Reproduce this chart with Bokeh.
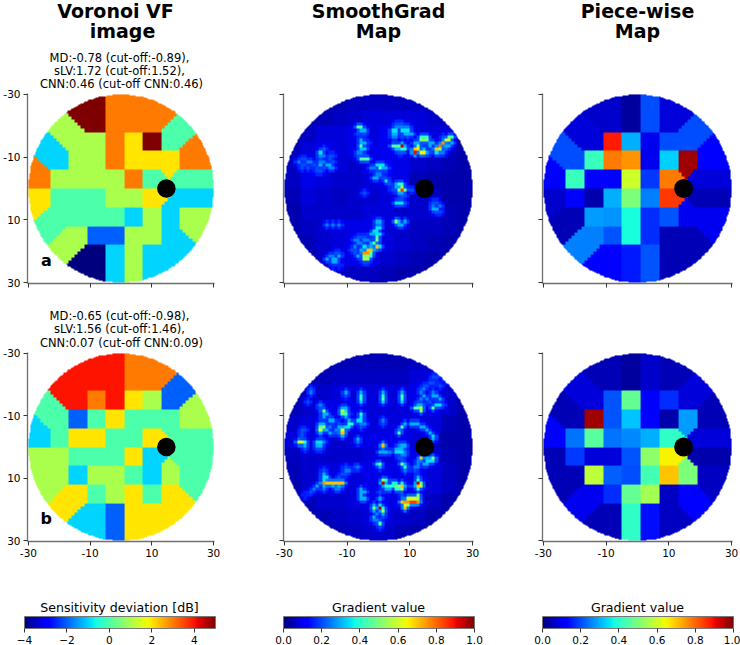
import numpy as np
from bokeh.embed import file_html
from bokeh.resources import INLINE
from bokeh.plotting import figure
from bokeh.layouts import column, row
from bokeh.models import (Label, LinearColorMapper, ColorBar, FixedTicker, Range1d,
                          NumeralTickFormatter)

FONT = "DejaVu Sans"

# test-point layout (rows of the visual-field grid)
row_y = [-21, -15, -9, -3, 3, 9, 15, 21]
row_x = [
    [-9, -3, 3, 9],
    [-15, -9, -3, 3, 9, 15],
    [-21, -15, -9, -3, 3, 9, 15, 21],
    [-27, -21, -15, -9, -3, 3, 9, 21],
    [-27, -21, -15, -9, -3, 3, 9, 21],
    [-21, -15, -9, -3, 3, 9, 15, 21],
    [-15, -9, -3, 3, 9, 15],
    [-9, -3, 3, 9],
]
blind_x = [14.7]
blind_y = [0]
axis_ticks = [-30, -10, 10, 30]
axis_labels = ["-30", "-10", "10", "30"]

voronoi_a = [
    [5, 3, 3, 3],
    [1, 1, 3, 2, 5, 0],
    [-1, 1, 1, 3, 2, 2, 2, 3],
    [3, 1, 1, 1, 1, 3, 0, 0],
    [2, 0, 0, 0, 1, 1, 2, -1],
    [0, 0, 0, 0, -1, 1, -1, 1],
    [1, -2, -2, 1, 1, -1],
    [-4, -1, 1, -1],
]
voronoi_b = [
    [4, 4, 3, 3],
    [4, 3, 4, 2, 1, -2],
    [0, -2, 0, 2, 0, 0, 0, 1],
    [-1, 0, 2, 2, 0, 0, 2, 0],
    [1, 1, 0, 0, 0, 2, -1, 0],
    [1, -1, 1, 1, 0, -1, 1, 0],
    [2, 0, 1, 2, 0, 2],
    [-1, -2, 2, 2],
]
piece_a = [
    [.07, .03, .20, .08],
    [.08, .88, .30, .10, .20, .20],
    [.20, .42, .78, .75, .10, .33, .97, .12],
    [.12, .42, .12, .12, .60, .18, .78, .08],
    [.07, .11, .04, .30, .50, .25, .85, .05],
    [.05, .28, .27, .38, .17, .21, .10, .10],
    [.25, .21, .38, .17, .05, .05],
    [.12, .15, .21, .05],
]
piece_b = [
    [.05, .03, .07, .05],
    [.08, .21, .47, .12, .17, .08],
    [.05, .97, .21, .32, .12, .04, .28, .05],
    [.12, .24, .46, .24, .26, .30, .41, .08],
    [.05, .18, .08, .08, .21, .52, .65, .04],
    [.05, .58, .22, .20, .43, .70, .50, .06],
    [.10, .17, .47, .55, .06, .12],
    [.05, .41, .14, .06],
]

# SmoothGrad background level, 5-degree blocks read by eye
sg_a_blocks = [
    [.04, .04, .04, .05, .06, .06, .06, .06, .06, .05, .04, .04],
    [.04, .04, .05, .06, .07, .08, .08, .08, .08, .07, .05, .04],
    [.04, .06, .08, .08, .09, .08, .10, .10, .08, .08, .08, .04],
    [.05, .08, .09, .08, .09, .09, .10, .09, .08, .07, .06, .04],
    [.06, .09, .09, .08, .07, .09, .10, .09, .07, .06, .05, .04],
    [.06, .09, .08, .07, .07, .08, .09, .09, .05, .04, .04, .04],
    [.05, .08, .07, .06, .07, .07, .08, .08, .07, .06, .04, .04],
    [.04, .07, .07, .07, .07, .08, .08, .07, .07, .07, .05, .04],
    [.04, .06, .07, .08, .09, .09, .08, .07, .06, .06, .05, .04],
    [.04, .05, .07, .08, .10, .10, .08, .07, .06, .05, .04, .04],
    [.04, .04, .06, .08, .09, .09, .07, .06, .05, .04, .04, .04],
    [.04, .04, .04, .06, .06, .06, .05, .04, .04, .04, .04, .04],
]
sg_b_blocks = [
    [.04, .04, .04, .05, .05, .05, .05, .05, .06, .06, .04, .04],
    [.04, .04, .05, .06, .06, .06, .06, .06, .08, .08, .06, .04],
    [.04, .06, .07, .08, .08, .08, .08, .08, .09, .09, .07, .04],
    [.05, .07, .09, .09, .09, .08, .08, .08, .09, .09, .07, .04],
    [.07, .08, .09, .09, .09, .08, .08, .08, .08, .08, .05, .04],
    [.08, .08, .08, .07, .08, .09, .09, .09, .08, .05, .04, .04],
    [.06, .07, .07, .07, .07, .08, .08, .09, .09, .07, .05, .04],
    [.05, .07, .08, .08, .08, .09, .09, .09, .09, .08, .06, .04],
    [.04, .07, .08, .08, .08, .09, .09, .09, .09, .08, .06, .04],
    [.04, .05, .07, .07, .08, .09, .09, .09, .08, .06, .04, .04],
    [.04, .04, .05, .06, .07, .08, .08, .07, .06, .04, .04, .04],
    [.04, .04, .04, .05, .06, .07, .07, .05, .04, .04, .04, .04],
]
# SmoothGrad bright pixels: (row y, columns x, value)
sg_a_hot = [
    (-21, [5, 6, 7], .2),
    (-20, [-7, -6], .45), (-20, [5, 6, 7, 8, 9], .25),
    (-19, [-6, -5], .3), (-19, [4, 5, 7, 8, 9], .35),
    (-18, [-7, -5], .2), (-18, [4, 5, 8, 9, 10], .3),
    (-17, [4, 5], .25), (-17, [7, 9, 20], .2), (-17, [13, 14, 15], .4), (-17, [22, 23], .45),
    (-16, [-6], .3), (-16, [13, 15], .5), (-16, [14], .55), (-16, [21, 22], .6),
    (-15, [-6, -5, 11, 12, 16, 17, 23], .3), (-15, [-4, 5], .18), (-15, [20], .75),
    (-14, [-6, 4, 5, 6], .45), (-14, [7], .95), (-14, [8, 16, 21, 22], .3), (-14, [12], .5), (-14, [19], .8),
    (-13, [-6, -5, 5, 6, 14], .32), (-13, [-18, 20, 21], .22), (-13, [7, 8], .4), (-13, [11], .7), (-13, [12], .65), (-13, [18], .7), (-13, [19], .55),
    (-12, [-19, 18], .35), (-12, [-7, -6, 12, 19, 20], .25), (-12, [11], .9), (-12, [13, 14], .65), (-12, [15], .3), (-12, [6, 7, 16], .2),
    (-11, [-19, -18], .25), (-11, [-16, -15, -7, -6, -5], .2),
    (-10, [-25, -24, -19, -16], .2), (-10, [-6, -5, -4], .45),
    (-9, [-26, -23, -22, -19, -18], .25), (-9, [-15], .2),
    (-8, [-25, -24, -21], .2), (-8, [-19, -17, -16], .3), (-8, [-1, 0, 1], .35),
    (-7, [-25, -23, -20, -18], .2), (-7, [-16, -15, -3, -2], .25), (-7, [0], .45), (-7, [1, 2], .3),
    (-6, [-20, -19, -1, 0], .2),
    (-5, [-1, 0], .25),
    (-4, [1, 2], .2), (-4, [-2, -1], .3),
    (-3, [2], .35),
    (-2, [3], .2), (-2, [5], .3), (-2, [6, 7], .4),
    (-1, [5, 6], .3), (-1, [7], .55), (-1, [8], .2),
    (0, [6, 8], .5), (0, [7], .85), (0, [4, 10], .2),
    (1, [6, 7], .3), (1, [-5], .2),
    (2, [7, 8], .2),
    (3, [6, 7], .2),
    (4, [5, 6, 7], .35), (4, [8, 17, 18], .2),
    (5, [17, 19], .25),
    (6, [17, 18], .3), (6, [19], .15),
    (7, [18, 19], .2),
    (10, [-1, 0, 6, 8], .3), (10, [5], .5),
    (11, [-17, -15, -13, -1, 0], .25), (11, [6, 7], .3),
    (12, [-1, 0], .35),
    (13, [-2, -1], .35),
    (14, [-3, -2], .3), (14, [-1, 0], .35),
    (15, [-7, -6, -5], .2), (15, [-1], .45),
    (16, [-8, -7, -5, -4], .25), (16, [-1], .5),
    (17, [-7, -6], .25), (17, [-3], .3), (17, [-2], .45),
    (18, [-8], .25), (18, [-5, 0], .35), (18, [-3], .3), (18, [-1], .7),
    (19, [-9, -8], .2), (19, [-6, -2], .3), (19, [-4, -3], .7),
    (20, [-14, -13, -8], .2), (20, [-5, -4], .75), (20, [-3], .5),
    (21, [-16, -15], .25), (21, [-13, -7], .3), (21, [-5, -4], .5), (21, [-3], .4),
    (22, [-17, -15, -14], .3), (22, [-6], .2), (22, [-5, -4], .55),
    (23, [-15, -14], .3), (23, [-5, -4], .2),
    (24, [-15, -13], .16),
]
sg_b_hot = [
    (-24, [19, 20], .2),
    (-23, [17, 18, 21], .2),
    (-22, [21, 22], .25),
    (-21, [16, 17], .2),
    (-20, [14, 15, 19], .2),
    (-19, [-22, 13], .2), (-19, [14], .25),
    (-18, [-11, -6, 1, 7], .3), (-18, [-22, 13, 17], .25),
    (-17, [-11], .2), (-17, [-6, 1], .4), (-17, [7], .45), (-17, [14, 17, 18], .3),
    (-16, [-6, 7], .4), (-16, [1], .45), (-16, [13, 15], .25), (-16, [19], .3),
    (-15, [-6, 1, 7], .33), (-15, [-23, 12, 13, 16], .2),
    (-14, [-19], .25), (-14, [12, 13], .3), (-14, [14, 20], .2), (-14, [18, 19], .35),
    (-13, [-19], .2), (-13, [-12, -11], .3), (-13, [11, 12, 17], .45), (-13, [13], .6),
    (-12, [-18, 13], .5), (-12, [-12], .55), (-12, [-11], .35),
    (-11, [-18, -17], .3), (-11, [-12, -11], .45), (-11, [-6], .4), (-11, [-10], .2),
    (-10, [-18, -11], .3), (-10, [-6], .35), (-10, [-16], .2),
    (-9, [-16, -15, -10], .3), (-9, [-7, -6], .35), (-9, [1], .25),
    (-8, [-19, -18, 8, 10, 11, 12], .3), (-8, [-13, 1], .2), (-8, [-10, -9], .4), (-8, [-6, -5], .25),
    (-7, [-19, 7], .45), (-7, [-18], .55), (-7, [-16], .25), (-7, [-13, -12, 13, 14], .3), (-7, [-11, -10], .35), (-7, [-6], .2),
    (-6, [-25, -24], .2), (-6, [-19, -12], .6), (-6, [-18, -17, 15], .3), (-6, [-14, -13, 6], .25),
    (-5, [-25, -15, -14], .2), (-5, [-19, -16, 16], .3), (-5, [-12], .7), (-5, [6], .45),
    (-4, [-25], .2), (-4, [-12], .3), (-4, [17], .35),
    (-3, [-25], .2), (-3, [-7, 17], .3),
    (-2, [-26, -25], .6), (-2, [-24], .4), (-2, [-20, -19], .35), (-2, [-18, -7], .25),
    (-1, [-24, -20, -19, 7, 8], .3), (-1, [1], .7), (-1, [6], .25),
    (0, [-24, -20, -19, 8], .2), (0, [5, 6, 7], .3),
    (1, [0, 1, 2], .3), (1, [3, 8], .25), (1, [5, 6, 7], .35),
    (2, [7, 8], .25),
    (3, [6, 7], .2), (3, [13], .7), (3, [14], .25), (3, [15, 16], .3), (3, [17], .5),
    (4, [12, 13], .25), (4, [15, 16, 17], .35),
    (5, [0, 7], .5), (5, [-1], .35), (5, [8, 14, 15], .3), (5, [12], .25),
    (6, [0], .3), (6, [8], .4), (6, [-8, -11], .2), (6, [-7, 11, 12], .25),
    (7, [-11, -10, 8], .25), (7, [-18, 11], .2),
    (8, [-12, -11], .2), (8, [-18], .3),
    (9, [-18, -17], .35), (9, [-13], .2), (9, [12], .3),
    (10, [-18], .35), (10, [1], .5), (10, [2, 12], .4),
    (11, [-18], .75), (11, [-17, -16, -15, -14, -13, -12], .7), (11, [1, 12], .95), (11, [2], .3), (11, [4, 5, 7], .37), (11, [13], .5),
    (12, [-20, -18, -15, -13, 8, 11], .3), (12, [2, 3, 4], .4), (12, [5, 6], .5), (12, [7, 12], .7), (12, [13], .6),
    (13, [-21, -18, -14, -13], .25), (13, [-6, 2, 3], .3), (13, [5, 6, 12], .4), (13, [7], .55),
    (14, [-22, 0], .2), (14, [-6, -5], .3),
    (15, [-24], .15), (15, [-6], .3), (15, [7], .2), (15, [12], .5),
    (16, [-6, -5, 0], .3), (16, [9, 10, 11], .6), (16, [12], .55),
    (17, [7], .7), (17, [8, 9, 12], .75), (17, [10, 11], .85),
    (18, [-2], .3), (18, [0], .35), (18, [8], .6), (18, [9], .55),
    (19, [-2], .5), (19, [0], .95), (19, [8], .7), (19, [1], .4),
    (20, [1], .55), (20, [-2], .3),
    (21, [-1], .25), (21, [1], .3),
    (22, [-2], .3), (22, [1], .2),
    (23, [-2, -1], .25),
    (24, [0], .45),
    (25, [0], .2),
]

# matplotlib's jet colour map
_t = np.linspace(0, 1, 256)
_r = np.interp(_t, [0, .35, .66, .89, 1], [0, 0, 1, 1, .5])
_g = np.interp(_t, [0, .125, .375, .64, .91, 1], [0, 0, 1, 1, 0, 0])
_b = np.interp(_t, [0, .11, .34, .65, 1], [.5, 1, 1, 0, 0])
JET = ["#%02x%02x%02x" % (int(r * 255), int(g * 255), int(b * 255)) for r, g, b in zip(_r, _g, _b)]

UP = 4  # image upsampling so that the round edge stays smooth


def mask_circle(coarse):
    fine = np.kron(coarse, np.ones((UP, UP)))
    c = (np.arange(60 * UP) + .5) / UP - 30
    xx, yy = np.meshgrid(c, c)
    fine[xx ** 2 + yy ** 2 > 30 ** 2] = np.nan
    return fine


def voronoi_image(values):
    px, py, pv = [], [], []
    for y, xs, vs in zip(row_y, row_x, values):
        for x, v in zip(xs, vs):
            px.append(x); py.append(y); pv.append(v)
    px, py, pv = np.array(px), np.array(py), np.array(pv, dtype=float)
    c = np.arange(60) - 29.5
    xx, yy = np.meshgrid(c - .5, c + .5)
    d = (xx[..., None] - px) ** 2 + (yy[..., None] - py) ** 2
    return mask_circle(pv[np.argmin(d, axis=2)])


def smoothgrad_image(hot, blocks):
    a = np.kron(np.array(blocks), np.ones((5, 5)))
    for y, xs, v in hot:
        for x in xs:
            # soft blue halo round each read pixel, as the picture's clusters have
            for dy in (-1, 0, 1):
                for dx in (-1, 0, 1):
                    yy, xx = y + 30 + dy, x + 30 + dx
                    if (dx or dy) and 0 <= yy < 60 and 0 <= xx < 60:
                        lift = .10 + .06 * v if (dx and dy) else .13 + .16 * v
                        a[yy, xx] = max(a[yy, xx], lift)
    for y, xs, v in hot:
        for x in xs:
            a[y + 30, x + 30] = v
    return mask_circle(a)


def panel(img, low, high, first_col, last_col, top_row, top_h, bottom_h):
    w = 190 + 24 + (8 if last_col else 45)
    p = figure(width=w, height=top_h + 190 - (1 if not top_row else 0) + bottom_h,
               x_range=Range1d(-30.3, 30.3), y_range=Range1d(30.3, -30.3),
               output_backend="svg", toolbar_location=None,
               min_border_left=24, min_border_right=8 if last_col else 45,
               min_border_top=top_h, min_border_bottom=bottom_h,
               x_axis_location="below", y_axis_location="left")
    mapper = LinearColorMapper(palette=JET, low=low, high=high, nan_color="#00000000")
    p.image(image=[img], x=-30, y=-30, dw=60, dh=60, color_mapper=mapper)
    p.circle(x=blind_x, y=blind_y, radius=3, fill_color="black", line_color="black", line_width=0)
    p.grid.visible = False
    p.outline_line_color = None
    p.background_fill_color = None
    p.border_fill_color = None
    for ax in (p.xaxis[0], p.yaxis[0]):
        ax.ticker = FixedTicker(ticks=axis_ticks)
        ax.axis_line_color = "#6e6e6e"
        ax.axis_line_width = 1.3
        ax.major_tick_line_color = "#333333"
        ax.major_tick_line_width = 1
        ax.major_tick_in = 0
        ax.major_tick_out = 4
        ax.minor_tick_line_color = None
        ax.major_label_standoff = 3
        ax.major_label_text_font = FONT
        ax.major_label_text_font_size = "10.5px"
        ax.major_label_text_color = "black"
        ax.major_label_overrides = dict(zip(axis_ticks, axis_labels))
    p.yaxis[0].major_label_orientation = "horizontal"
    if top_row:
        p.xaxis[0].major_label_overrides = {t: "" for t in axis_ticks}
    if not first_col:
        p.yaxis[0].major_label_overrides = {t: "" for t in axis_ticks}
    return p


def header(width, height, lines):
    p = figure(width=width, height=height, x_range=Range1d(0, width), y_range=Range1d(height, 0),
               output_backend="svg", toolbar_location=None, min_border=0,
               x_axis_type=None, y_axis_type=None)
    p.grid.visible = False
    p.outline_line_color = None
    for s, x, y, size, style in lines:
        p.add_layout(Label(x=x, y=y, text=s, text_align="center", text_baseline="middle",
                           text_font=FONT, text_font_size=size, text_font_style=style,
                           text_color="black"))
    return p


TOP_PAD = 8          # room above each panel for half of its first tick label
OVERLAP = 6
H1 = 93 - TOP_PAD + OVERLAP   # first header height
H2 = 352 - 310 - TOP_PAD + OVERLAP
title_size, note_size = "19px", "11.5px"
TY1, TY2 = 10, 30
h11 = header(259, H1, [("Voronoi VF", 115, TY1, title_size, "bold"), ("image", 122, TY2, title_size, "bold"),
                       ("MD:-0.78 (cut-off:-0.89),", 119, 57, note_size, "normal"),
                       ("sLV:1.72 (cut-off:1.52),", 119, 70, note_size, "normal"),
                       ("CNN:0.46 (cut-off CNN:0.46)", 121, 83, note_size, "normal")])
h12 = header(259, H1, [("SmoothGrad", 119, TY1, title_size, "bold"), ("Map", 119, TY2, title_size, "bold")])
h13 = header(222, H1, [("Piece-wise", 119, TY1, title_size, "bold"), ("Map", 119, TY2, title_size, "bold")])
h21 = header(259, H2, [("MD:-0.65 (cut-off:-0.98),", 119, 5.5, note_size, "normal"),
                       ("sLV:1.56 (cut-off:1.46),", 119, 18.5, note_size, "normal"),
                       ("CNN:0.07 (cut-off CNN:0.09)", 121, 32, note_size, "normal")])

images_top = [(voronoi_image(voronoi_a), -4, 5), (smoothgrad_image(sg_a_hot, sg_a_blocks), 0, 1), (voronoi_image(piece_a), 0, 1)]
images_bot = [(voronoi_image(voronoi_b), -4, 5), (smoothgrad_image(sg_b_hot, sg_b_blocks), 0, 1), (voronoi_image(piece_b), 0, 1)]

top = [panel(img, lo, hi, i == 0, i == 2, True, TOP_PAD, 27) for i, (img, lo, hi) in enumerate(images_top)]
bot = [panel(img, lo, hi, i == 0, i == 2, False, TOP_PAD, 24) for i, (img, lo, hi) in enumerate(images_bot)]
for fig, letter in ((top[0], "a"), (bot[0], "b")):
    fig.add_layout(Label(x=-24.2, y=23, text=letter, text_align="center", text_baseline="middle",
                         text_font=FONT, text_font_size="16px", text_font_style="bold", text_color="black"))

bars = [("Sensitivity deviation [dB]", -4, 5, [-4, -2, 0, 2, 4]),
        ("Gradient value", 0, 1, [0, .2, .4, .6, .8, 1]),
        ("Gradient value", 0, 1, [0, .2, .4, .6, .8, 1])]
bar_row = []
for i, (title, lo, hi, ticks) in enumerate(bars):
    left = 24
    w = left + 190 + (8 if i == 2 else 45)
    p = figure(width=w, height=80, x_range=Range1d(0, w), y_range=Range1d(80, 0),
               output_backend="svg", toolbar_location=None, min_border=0,
               x_axis_type=None, y_axis_type=None)
    p.grid.visible = False
    p.outline_line_color = None
    mapper = LinearColorMapper(palette=JET, low=lo, high=hi)
    cb = ColorBar(color_mapper=mapper, orientation="horizontal", width=191, height=12,
                  location=(left, -1), padding=0, ticker=FixedTicker(ticks=ticks),
                  major_tick_in=0, major_tick_out=4, major_tick_line_color="#333333",
                  minor_tick_line_color=None, bar_line_color="#777777",
                  major_label_text_font=FONT, major_label_text_font_size="10.5px",
                  major_label_text_color="black", label_standoff=3,
                  background_fill_color=None, border_line_color=None)
    if i == 0:
        cb.major_label_overrides = {-4: "\u22124", -2: "\u22122", 0: "0", 2: "2", 4: "4"}
    else:
        cb.formatter = NumeralTickFormatter(format="0.0")
    p.add_layout(cb, "center")
    p.add_layout(Label(x=left + 95, y=42, text=title, text_align="center", text_baseline="middle",
                       text_font=FONT, text_font_size="12.6px", text_color="black"))
    bar_row.append(p)

layout = column(row(h11, h12, h13, spacing=0),
                row(*top, spacing=0, margin=(-OVERLAP, 0, 0, 0)),
                row(h21, spacing=0),
                row(*bot, spacing=0, margin=(-OVERLAP, 0, 0, 0)),
                row(*bar_row, spacing=0),
                spacing=0, margin=(0, 0, 0, 0))
open("out.html", "w").write(file_html(layout, INLINE))
